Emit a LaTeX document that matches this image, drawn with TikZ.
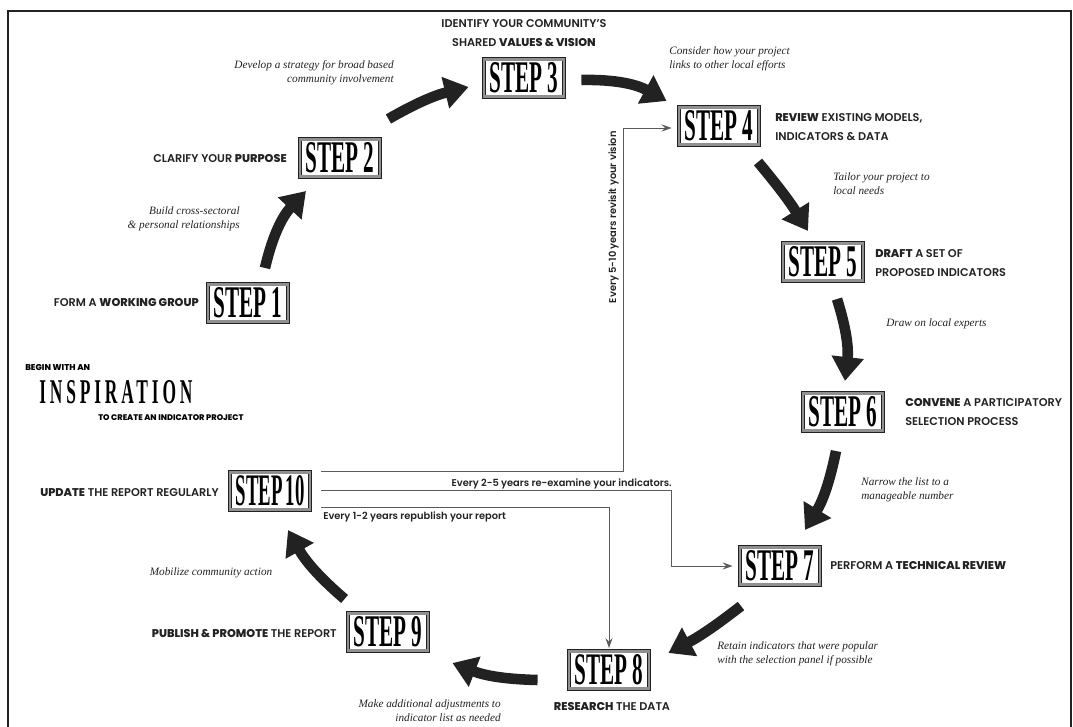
\documentclass[tikz,border=0pt]{standalone}
\usepackage{fontspec}
\usepackage{graphicx}
\usetikzlibrary{arrows.meta,calc}
\setmainfont{Liberation Serif}
\newfontfamily\lblfont{Poppins SemiBold}[BoldFont={Poppins ExtraBold}]
\newfontfamily\stepfont{Liberation Serif}
\definecolor{ink}{HTML}{222222}
\definecolor{fbgray}{HTML}{5A5A5A}
\newcommand{\steptext}[1]{\resizebox{1.72cm}{0.75cm}{\stepfont\bfseries #1}}
\tikzset{
  stepbox/.style  = {rectangle, draw=ink, line width=0.6pt, double=ink!50, double distance=1.6pt,
                     fill=white, minimum width=2.0cm, minimum height=0.93cm, inner sep=0pt},
  steplbl/.style  = {font=\lblfont\fontsize{8}{13.5}\selectfont\color{ink}, inner sep=0pt},
  stepnote/.style = {font=\itshape\fontsize{8}{10}\selectfont\color{ink}, inner sep=0pt},
  bigarrow/.style = {ink, line width=7.5pt, -{Triangle[width=22pt,length=17pt]}},
  fbline/.style   = {fbgray, line width=0.6pt, -{Stealth[length=7pt,width=5pt,inset=2.5pt]}},
  fbtext/.style   = {font=\lblfont\fontsize{7}{8}\selectfont\color{ink}, inner sep=0pt},
}

\begin{document}
\begin{tikzpicture}[x=0.025cm, y=-0.025cm]
\useasboundingbox (0,0) rectangle (1073,727);
% frame
\draw[ink, line width=1.4pt] (8,727) -- (8,11) -- (1071,11) -- (1071,727);

% the ten steps
\node[stepbox] (s1)  at (248,303) {\steptext{STEP 1}};
\node[stepbox] (s2)  at (340,158) {\steptext{STEP 2}};
\node[stepbox] (s3)  at (524,78)  {\steptext{STEP 3}};
\node[stepbox] (s4)  at (719,126) {\steptext{STEP 4}};
\node[stepbox] (s5)  at (823,262) {\steptext{STEP 5}};
\node[stepbox] (s6)  at (843,412) {\steptext{STEP 6}};
\node[stepbox] (s7)  at (780,566) {\steptext{STEP 7}};
\node[stepbox] (s8)  at (609,670) {\steptext{STEP 8}};
\node[stepbox] (s9)  at (388,632) {\steptext{STEP 9}};
\node[stepbox] (s10) at (270,491) {\steptext{STEP\,10}};

% titles
\node[steplbl, anchor=east] (l1) at (199,303) {FORM A \textbf{WORKING GROUP}};
\node[steplbl, anchor=east] (l2) at (287,159) {CLARIFY YOUR \textbf{PURPOSE}};
\node[steplbl, align=center] (l3) at (524,33) {IDENTIFY YOUR COMMUNITY’S\\SHARED \textbf{VALUES \& VISION}};
\node[steplbl, anchor=west, align=left] (l4) at (775,127) {\textbf{REVIEW} EXISTING MODELS,\\INDICATORS \& DATA};
\node[steplbl, anchor=west, align=left] (l5) at (875,263) {\textbf{DRAFT} A SET OF\\PROPOSED INDICATORS};
\node[steplbl, anchor=west, align=left] (l6) at (905,412) {\textbf{CONVENE} A PARTICIPATORY\\SELECTION PROCESS};
\node[steplbl, anchor=west] (l7) at (830,566) {PERFORM A \textbf{TECHNICAL REVIEW}};
\node[steplbl] (l8) at (612,707) {\textbf{RESEARCH} THE DATA};
\node[steplbl, anchor=east] (l9) at (337,634) {\textbf{PUBLISH \& PROMOTE} THE REPORT};
\node[steplbl, anchor=east] (l10) at (219,493) {\textbf{UPDATE} THE REPORT REGULARLY};

% notes
\node[stepnote, anchor=east, align=right] (n1) at (240,219) {Build cross-sectoral\\\& personal relationships};
\node[stepnote, anchor=east, align=right] (n2) at (394,73) {Develop a strategy for broad based\\community involvement};
\node[stepnote, anchor=west, align=left] (n3) at (669,59) {Consider how your project\\links to other local efforts};
\node[stepnote, anchor=west, align=left] (n4) at (833,184) {Tailor your project to\\local needs};
\node[stepnote, anchor=west] (n5) at (886,324) {Draw on local experts};
\node[stepnote, anchor=west, align=left] (n6) at (861,490) {Narrow the list to a\\manageable number};
\node[stepnote, anchor=west, align=left] (n7) at (717,654) {Retain indicators that were popular\\with the selection panel if possible};
\node[stepnote, anchor=east, align=right] (n8) at (501,711) {Make additional adjustments to\\indicator list as needed};
\node[stepnote] (n9) at (211,573) {Mobilize community action};

% inspiration
\node[font=\lblfont\bfseries\fontsize{6}{7}\selectfont, anchor=west, inner sep=0pt] (beg) at (25,368) {BEGIN WITH AN};
\node[anchor=west, inner sep=0pt] (insp) at (39,392)
  {\resizebox{3.83cm}{0.575cm}{\stepfont\bfseries\addfontfeatures{LetterSpace=22}INSPIRATION}};
\node[font=\lblfont\bfseries\fontsize{5.8}{7}\selectfont, anchor=west, inner sep=0pt] (tocr) at (98,418) {TO CREATE AN INDICATOR PROJECT};

% cycle arrows
\draw[bigarrow] ($(s1.north)+(17,-16)$)       to[bend left=15] ($(s2.south)+(-34,14)$);
\draw[bigarrow] ($(s2.north east)+(8,-20)$)   to[bend left=8]  ($(s3.west)+(-15,9)$);
\draw[bigarrow] ($(s3.east)+(17,2)$)          to[bend left=15] ($(s4.north west)+(-12,-6)$);
\draw[bigarrow] ($(s4.south)+(39,17)$)        to[bend left=4]  ($(s5.north)+(-15,-12)$);
\draw[bigarrow] ($(s5.south)+(14,18)$)        to[bend left=12] ($(s6.north)+(2,-12)$);
\draw[bigarrow] ($(s6.south)+(-7,20)$)        to[bend left=10] ($(s7.north)+(25,-17)$);
\draw[bigarrow] ($(s7.south)+(-39,21)$)       to[bend left=5]  ($(s8.north east)+(19,2)$);
\draw[bigarrow] ($(s8.west)+(-31,10)$)        to[bend left=10] ($(s9.south east)+(24,12)$);
\draw[bigarrow] ($(s9.north west)+(-3,-14)$)  to[bend left=10] ($(s10.south)+(18,20)$);

% feedback loops
\draw[fbline] ($(s10.east)+(11,-20)$) -| ($(s4.west)+(-55,2)$) -- ($(s4.west)+(-7,2)$);
\draw[fbline] ($(s10.east)+(11,-1)$) -| ($(s7.west)+(-68,0)$) -- ($(s7.west)+(-7,0)$);
\draw[fbline] ($(s10.east)+(11,16)$) -| ($(s8.north)+(0,-3)$);
\node[fbtext, rotate=90, anchor=south east] (t510) at (619,131) {Every 5-10 years revisit your vision};
\node[fbtext, anchor=east] (t25) at (672,484) {Every 2-5 years re-examine your indicators.};
\node[fbtext, anchor=west] (t12) at (323,517) {Every 1-2 years republish your report};
\end{tikzpicture}
\end{document}
